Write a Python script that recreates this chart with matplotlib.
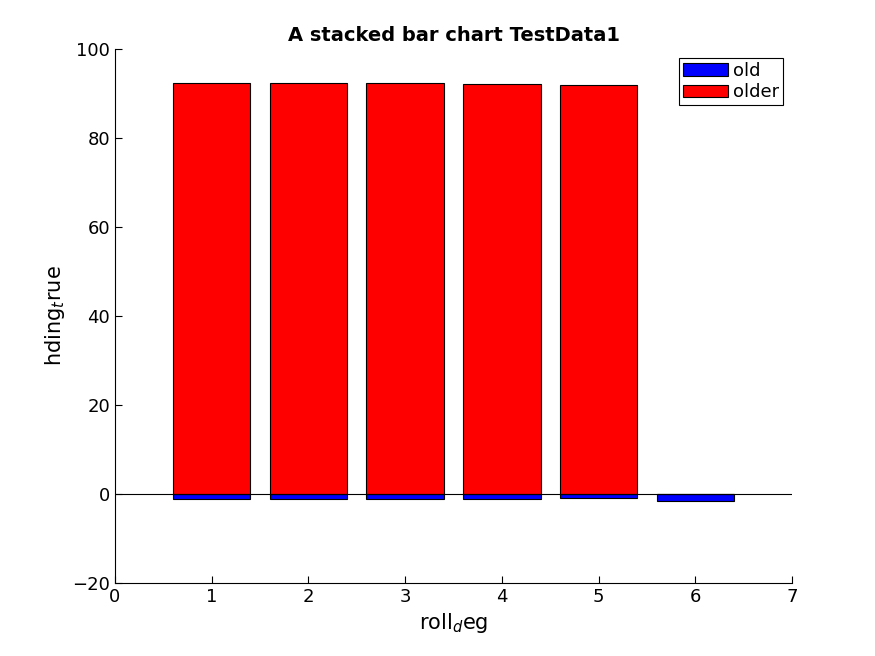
import numpy as np
import matplotlib.pyplot as plt

x = np.array([1, 2, 3, 4, 5, 6])
old = np.array([-1.2, -1.2, -1.2, -1.2, -1.0, -1.5])
older = np.array([92.4, 92.4, 92.4, 92.1, 91.8, 0.0])

fig = plt.figure(figsize=(8.75, 6.56), dpi=100)
ax = fig.add_axes([115 / 875, 73 / 656, 677 / 875, 534 / 656])

# MATLAB-style stacking: negatives go below zero, positives above
ax.bar(x, old, width=0.8, color="#0000ff", edgecolor="black", linewidth=0.8, label="old")
ax.bar(x, older, width=0.8, bottom=np.maximum(old, 0), color="#ff0000",
       edgecolor="black", linewidth=0.8, label="older")
ax.axhline(0, color="black", linewidth=0.8)

ax.set_xlim(0, 7)
ax.set_ylim(-20, 100)
ax.set_xticks(range(0, 8))
ax.set_yticks(range(-20, 101, 20))
ax.tick_params(direction="in", labelsize=13, length=5)
for s in ["top", "right"]:
    ax.spines[s].set_visible(False)
ax.set_xlabel("roll$_d$eg", fontsize=15)
ax.set_ylabel("hding$_t$rue", fontsize=15)
ax.set_title("A stacked bar chart TestData1", fontsize=14, fontweight="bold")
leg = ax.legend(loc="upper right", fontsize=13, fancybox=False, framealpha=1,
                edgecolor="black", handlelength=2.5, borderpad=0.2,
                labelspacing=0.2, handletextpad=0.3)
leg.get_frame().set_linewidth(0.8)

fig.savefig("out.png")
